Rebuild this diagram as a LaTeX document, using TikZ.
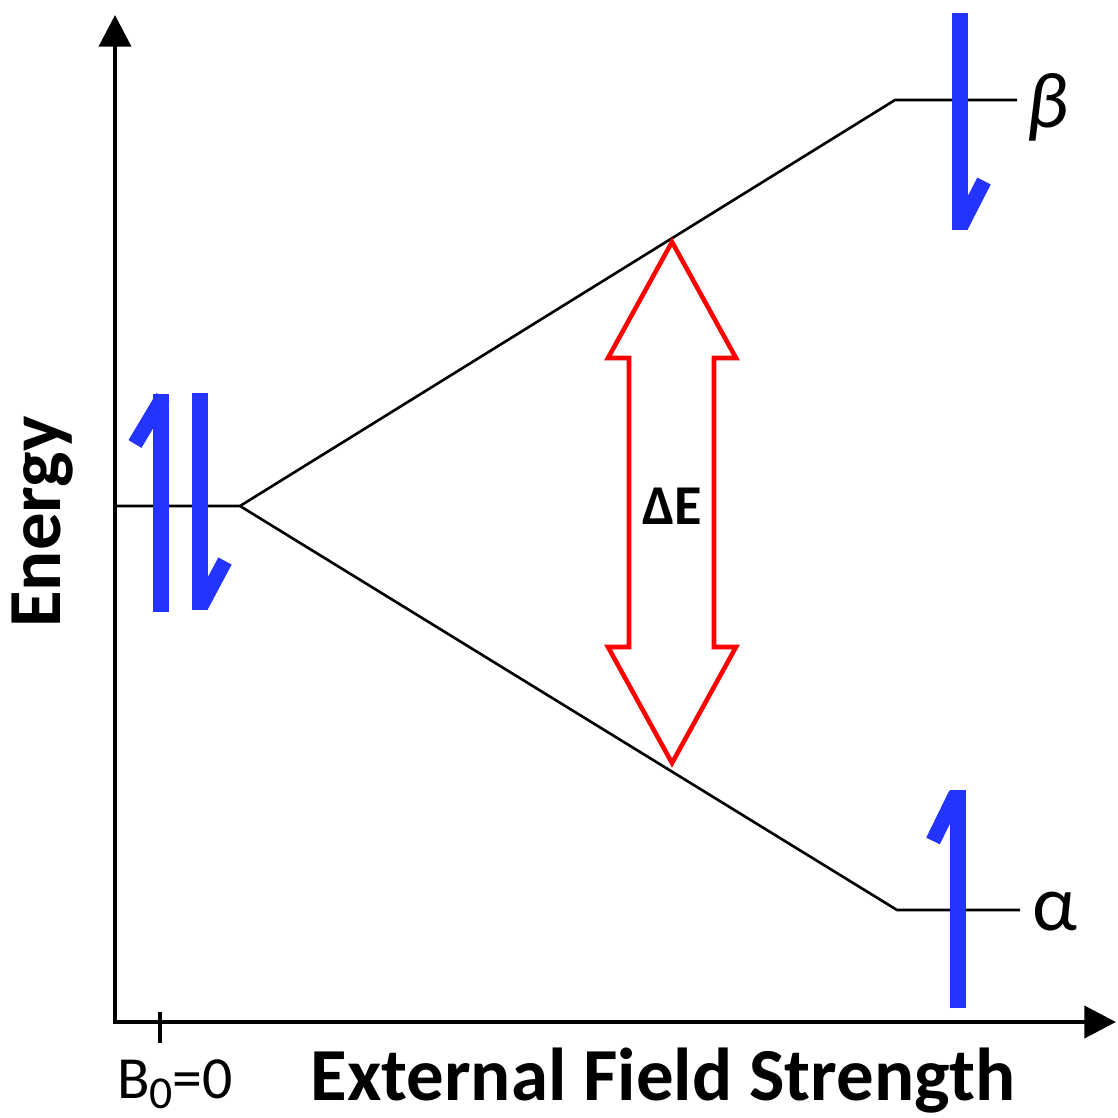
\documentclass[tikz,border=0pt]{standalone}
\usepackage{fontspec}
\setmainfont{Carlito}
\usetikzlibrary{arrows.meta}
\definecolor{spinblue}{RGB}{35,52,255}
\definecolor{gapred}{RGB}{255,0,0}

\begin{document}
\begin{tikzpicture}[x=0.01cm, y=-0.01cm, line join=miter,
  axis/.style={line width=1.4pt, {Triangle[length=9pt,width=9pt]}-{Triangle[length=9pt,width=9pt]}},
  level/.style={line width=0.75pt},
  spin/.style={spinblue, line width=4.3pt},
  gap/.style={gapred, line width=1.3pt, fill=white},
  lbl/.style={font=\bfseries\fontsize{21.3}{25}\selectfont}]

	\useasboundingbox (0,0) rectangle (1117,1118);

	% Axes
	\coordinate (ytop) at (115,15);
	\coordinate (origin) at (115,1022);
	\coordinate (xend) at (1116,1022);
	\draw[axis] (ytop) -- (origin) -- (xend);
	\draw[line width=1.1pt] (160,1012) -- (160,1043);

	% Axis labels
	\node[lbl] (xlabel) at (663,1081) {External Field Strength};
	\node[lbl, rotate=90] (ylabel) at (43,522) {Energy};
	\node[font=\fontsize{17}{20}\selectfont] (bzero) at (175,1084) {B\raisebox{-0.35ex}{\fontsize{13}{15}\selectfont 0}=0};

	% Energy levels
	\coordinate (yzero) at (115,506);
	\coordinate (split) at (240,506);
	\coordinate (betaL) at (895,100);
	\coordinate (betaR) at (1017,100);
	\coordinate (alphaL) at (897,910);
	\coordinate (alphaR) at (1020,910);
	\draw[level] (yzero) -- (split) -- (betaL) -- (betaR);
	\draw[level] (split) -- (alphaL) -- (alphaR);

	\node[font=\fontsize{22.5}{26}\selectfont\itshape] (beta) at (1047,107) {β};
	\node[font=\fontsize{22.5}{26}\selectfont] (alpha) at (1055,912) {α};

	% Splitting gap
	\draw[gap] (672,242) -- (736,358) -- (714,358) -- (714,647) -- (736,647)
		-- (672,763) -- (608,647) -- (629,647) -- (629,358) -- (608,358) -- cycle;
	\node[font=\bfseries\fontsize{16}{19}\selectfont] (dE) at (672,506) {ΔE};

	% Spins
	\draw[spin] (161,612) -- (161,394);
	\draw[spin] (163,397) -- (135,444);
	\draw[spin] (200,393) -- (200,610);
	\draw[spin] (201,606) -- (225,561);
	\draw[spin] (960,13) -- (960,230);
	\draw[spin] (961,226) -- (984,181);
	\draw[spin] (958,1008) -- (958,790);
	\draw[spin] (956,794) -- (933,841);

\end{tikzpicture}
\end{document}
